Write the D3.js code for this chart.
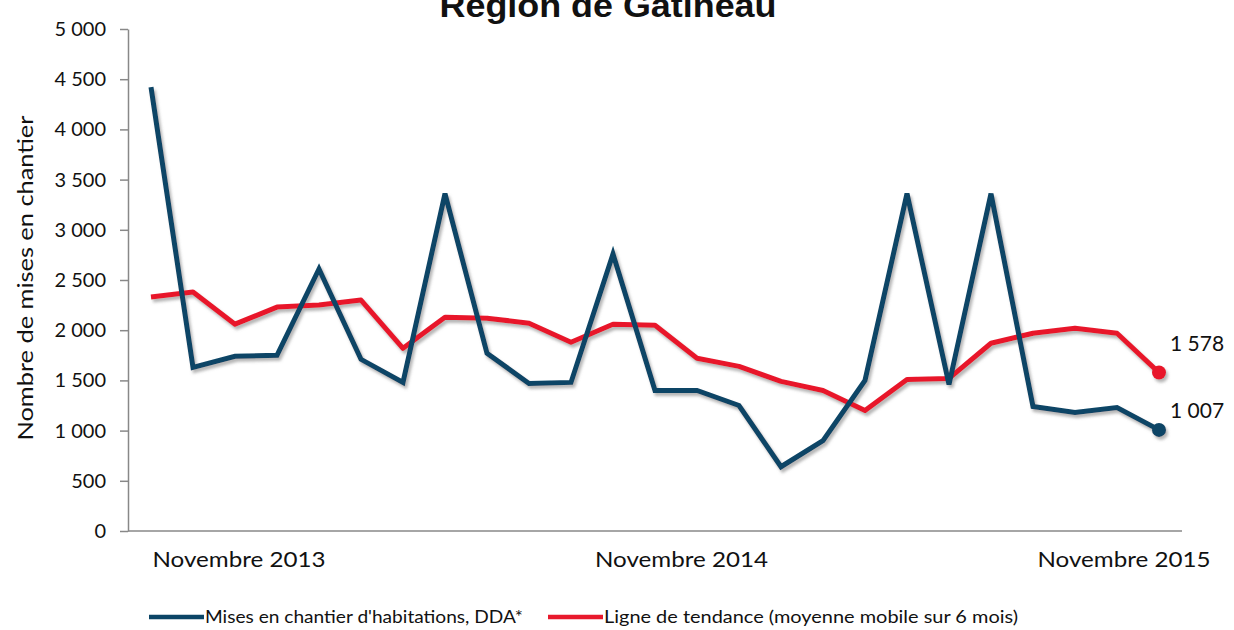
<!DOCTYPE html>
<html>
<head>
<meta charset="utf-8">
<script src="https://cdn.jsdelivr.net/npm/d3@7"></script>
<style>
  body { margin: 0; background: #fff; }
  svg { display: block; }
  text { font-family: Lato, "Open Sans", sans-serif; fill: #111; }
</style>
</head>
<body>
<div id="chart"></div>
<script>
// monthly data, Nov 2013 .. Nov 2015
var months = ["2013-11","2013-12","2014-01","2014-02","2014-03","2014-04","2014-05","2014-06","2014-07","2014-08","2014-09","2014-10",
              "2014-11","2014-12","2015-01","2015-02","2015-03","2015-04","2015-05","2015-06","2015-07","2015-08","2015-09","2015-10","2015-11"]
var starts = [4420, 1630, 1740, 1750, 2610, 1710, 1480, 3360, 1770, 1470, 1480, 2760,
              1400, 1400, 1250, 640, 900, 1500, 3360, 1460, 3360, 1240, 1180, 1230, 1007]
var trend = [2330, 2380, 2060, 2230, 2250, 2300, 1820, 2130, 2120, 2070, 1880, 2060,
             2050, 1720, 1640, 1490, 1400, 1200, 1510, 1520, 1870, 1970, 2020, 1970, 1578]
var tickLabels = ["Novembre 2013", "Novembre 2014", "Novembre 2015"]
var yTicks = [0, 500, 1000, 1500, 2000, 2500, 3000, 3500, 4000, 4500, 5000]

var width = 1234, height = 630
var blue = "#0b4566", red = "#e8192c"

var svg = d3.select("#chart").append("svg")
  .attr("width", width)
  .attr("height", height)

// soft drop shadow like the original
var defs = svg.append("defs")
defs.append("filter").attr("id", "shadow")
  .attr("x", "-10%").attr("y", "-10%").attr("width", "120%").attr("height", "120%")
  .append("feDropShadow")
    .attr("dx", 2).attr("dy", 3).attr("stdDeviation", 1.5)
    .attr("flood-color", "#777").attr("flood-opacity", 0.55)

var x = d3.scalePoint()
  .domain(months)
  .range([130, 1180])
  .padding(0.5)

var y = d3.scaleLinear()
  .domain([0, 5000])
  .range([531, 29])

var fr = d3.formatLocale({decimal: ",", thousands: " ", grouping: [3], currency: ["", " $"]})
var fmt = fr.format(",")

// title (cut at the top in the original too)
svg.append("text")
  .attr("x", 608).attr("y", 17)
  .attr("text-anchor", "middle")
  .style("font-family", "'Liberation Sans', Arial, sans-serif")
  .style("font-weight", "bold")
  .style("font-size", "33px")
  .attr("textLength", 337)
  .attr("lengthAdjust", "spacingAndGlyphs")
  .text("Région de Gatineau")

// y axis
var yAxis = svg.append("g")
  .attr("transform", "translate(128,0)")
  .call(d3.axisLeft(y).tickValues(yTicks).tickFormat(fmt).tickSize(8).tickSizeOuter(0).tickPadding(14))
yAxis.select(".domain").attr("stroke", "#888").attr("stroke-width", 1.5)
yAxis.selectAll(".tick line").attr("stroke", "#888").attr("stroke-width", 1.5)
yAxis.selectAll(".tick text")
  .style("font-family", "Lato, sans-serif")
  .style("font-size", "20px")
  .attr("fill", "#111")

// x axis line
svg.append("line")
  .attr("x1", 128).attr("x2", 1182)
  .attr("y1", y(0)).attr("y2", y(0))
  .attr("stroke", "#888").attr("stroke-width", 1.5)

var labelX = d3.scaleLinear().domain([0, tickLabels.length - 1]).range([239, 1124])
svg.selectAll("xlabels")
  .data(tickLabels)
  .enter()
  .append("text")
    .attr("x", function(d, i){ return labelX(i) })
    .attr("y", 567)
    .attr("text-anchor", "middle")
    .style("font-size", "21px")
    .attr("textLength", 173)
    .attr("lengthAdjust", "spacingAndGlyphs")
    .text(function(d){ return d })

// y axis title
svg.append("text")
  .attr("transform", "translate(33,278) rotate(-90)")
  .attr("text-anchor", "middle")
  .style("font-size", "21px")
  .attr("textLength", 325)
  .attr("lengthAdjust", "spacingAndGlyphs")
  .text("Nombre de mises en chantier")

var line = d3.line()
  .x(function(d){ return x(d.m) })
  .y(function(d){ return y(d.v) })

function series(vals) {
  return vals.map(function(v, i){ return {m: months[i], v: v} })
}

var plot = svg.append("g").attr("filter", "url(#shadow)")

plot.append("path")
  .datum(series(trend))
  .attr("d", line)
  .attr("fill", "none")
  .attr("stroke", red)
  .attr("stroke-width", 5)
  .attr("stroke-linejoin", "round")

plot.append("path")
  .datum(series(starts))
  .attr("d", line)
  .attr("fill", "none")
  .attr("stroke", blue)
  .attr("stroke-width", 5)
  .attr("stroke-linejoin", "miter")

// end points + labels
var last = months.length - 1
var ends = [
  {v: trend[last], c: red, dy: -22},
  {v: starts[last], c: blue, dy: -12}
]
plot.selectAll("enddots")
  .data(ends)
  .enter()
  .append("circle")
    .attr("cx", x(months[last]))
    .attr("cy", function(d){ return y(d.v) })
    .attr("r", 7)
    .attr("fill", function(d){ return d.c })

svg.selectAll("endlabels")
  .data(ends)
  .enter()
  .append("text")
    .attr("x", x(months[last]) + 11)
    .attr("y", function(d){ return y(d.v) + d.dy })
    .style("font-size", "21px")
    .text(function(d){ return fmt(d.v) })

// legend
var legend = [
  {name: "Mises en chantier d'habitations, DDA*", c: blue, x: 149, w: 318},
  {name: "Ligne de tendance (moyenne mobile sur 6 mois)", c: red, x: 548, w: 414}
]
var lg = svg.selectAll("legend")
  .data(legend)
  .enter()
  .append("g")
    .attr("transform", function(d){ return "translate(" + d.x + ",617)" })
lg.append("line")
  .attr("x1", 0).attr("x2", 55)
  .attr("stroke", function(d){ return d.c })
  .attr("stroke-width", 4.5)
lg.append("text")
  .attr("x", 56).attr("y", 6)
  .style("font-size", "17px")
  .attr("textLength", function(d){ return d.w })
  .attr("lengthAdjust", "spacingAndGlyphs")
  .text(function(d){ return d.name })
</script>
</body>
</html>
